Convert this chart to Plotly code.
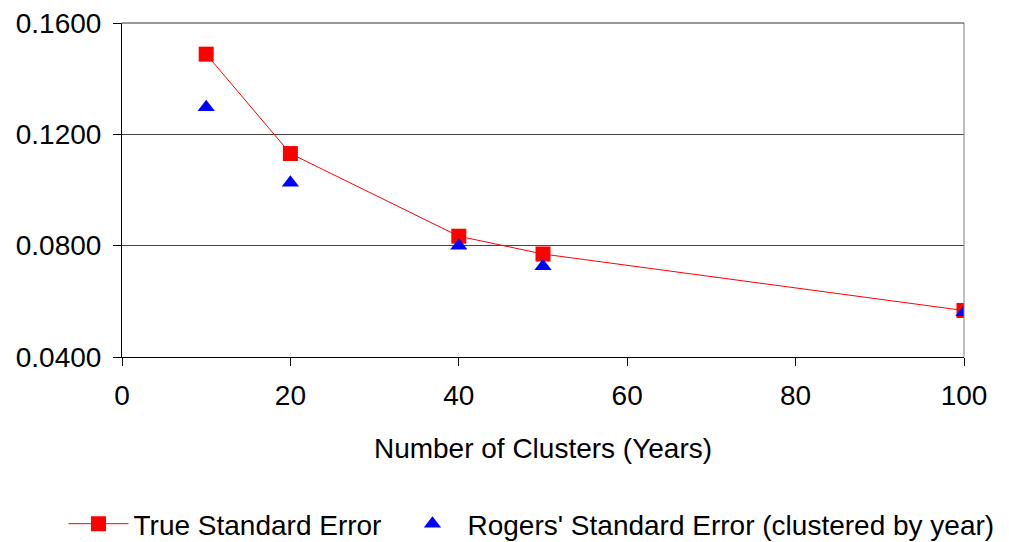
import plotly.graph_objects as go

clusters = [10, 20, 40, 50, 100]
true_se = [0.1488, 0.1131, 0.0834, 0.0770, 0.0567]
rogers_se = [0.1297, 0.1026, 0.0800, 0.0726, 0.0561]
x_ticks = [0, 20, 40, 60, 80, 100]
y_ticks = [0.04, 0.08, 0.12, 0.16]
y_tick_text = ["0.0400", "0.0800", "0.1200", "0.1600"]

FONT = "Liberation Sans, Arial, sans-serif"

fig = go.Figure()
fig.add_trace(go.Scatter(
    x=clusters, y=true_se, name="True Standard Error",
    mode="lines+markers",
    line=dict(color="#FF0000", width=1),
    marker=dict(symbol="square", size=15, color="#FF0000"),
    legend="legend",
))
fig.add_trace(go.Scatter(
    x=clusters, y=rogers_se, name="Rogers' Standard Error (clustered by year)",
    mode="markers",
    marker=dict(symbol="triangle-up", size=15, color="#0000FF"),
    legend="legend2",
))

legend_common = dict(
    orientation="h", xref="container", yref="container",
    xanchor="left", y=0.048, yanchor="middle",
    font=dict(size=28, family=FONT), itemwidth=60,
    bgcolor="rgba(0,0,0,0)",
)

fig.update_layout(
    width=1009, height=542,
    margin=dict(l=114, r=53, t=15, b=193, autoexpand=False),
    paper_bgcolor="white", plot_bgcolor="white",
    font=dict(family=FONT, size=28, color="black"),
    showlegend=True,
    legend=dict(x=0.055, **legend_common),
    legend2=dict(x=0.386, **legend_common),
    shapes=[
        dict(type="line", xref="paper", yref="paper", x0=1, x1=1, y0=0, y1=1,
             line=dict(color="#808080", width=1)),
        dict(type="line", xref="paper", yref="paper", x0=0, x1=1, y0=1, y1=1,
             line=dict(color="#333333", width=1)),
    ],
)
fig.update_xaxes(
    range=[0, 100], tickvals=x_ticks, ticks="outside", ticklen=8, tickcolor="black",
    showline=True, linecolor="black", linewidth=1, showgrid=False, zeroline=False,
    tickfont=dict(size=28), ticklabelstandoff=5, ticklabeloverflow="allow",
    title=dict(text="Number of Clusters (Years)", font=dict(size=28), standoff=28),
)
fig.update_yaxes(
    range=[0.04, 0.16], tickvals=y_ticks, ticktext=y_tick_text, ticks="outside",
    ticklen=8, tickcolor="black", ticklabelstandoff=6, ticklabeloverflow="allow",
    showline=True, linecolor="black", linewidth=1,
    showgrid=True, gridcolor="#444444", gridwidth=1, zeroline=False,
    tickfont=dict(size=28),
)

fig.write_html("out.html")
